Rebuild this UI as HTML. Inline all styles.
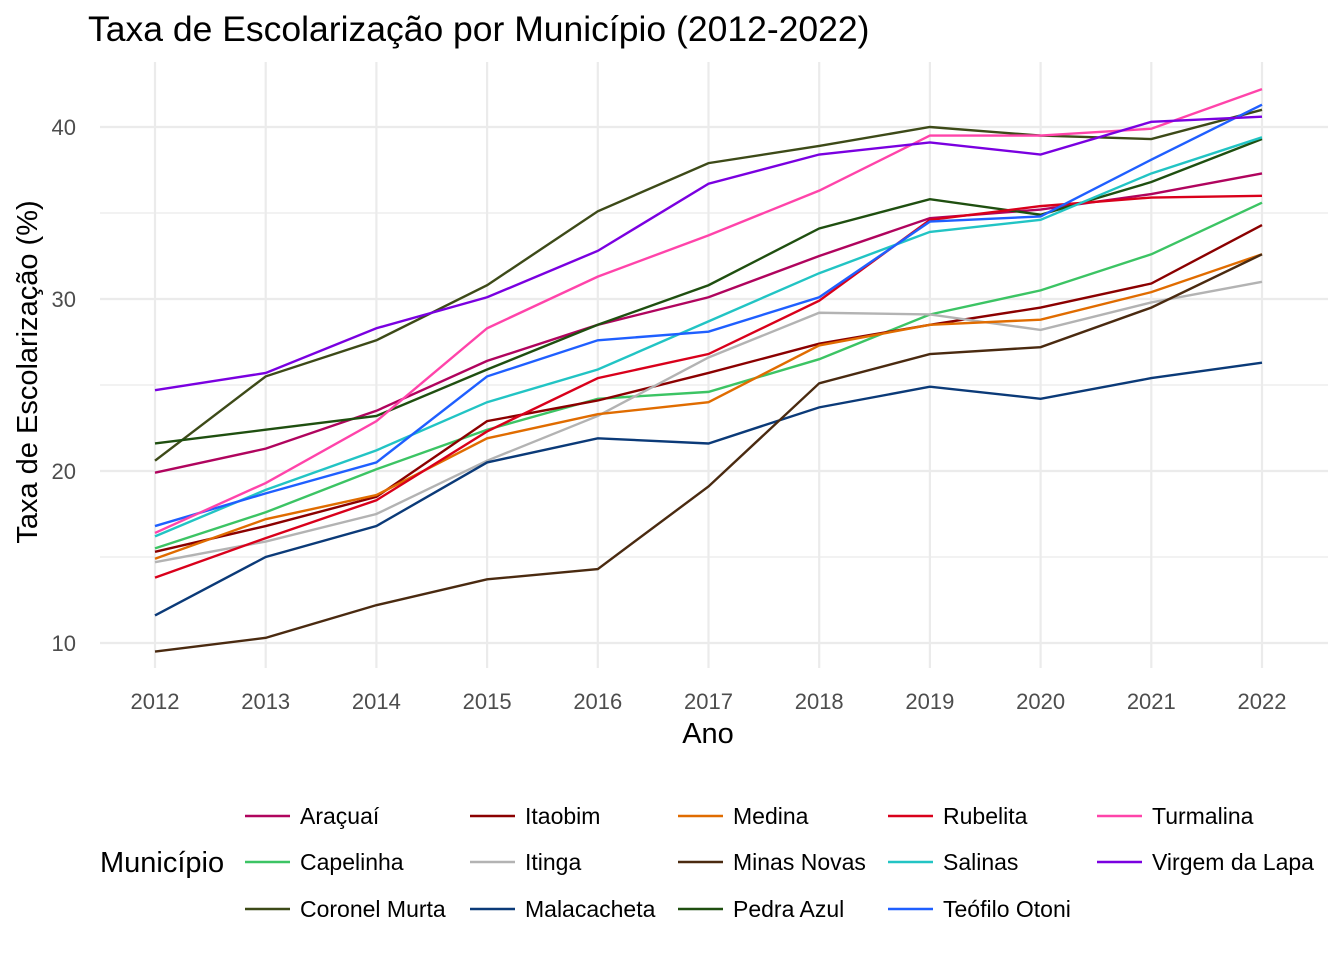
<!DOCTYPE html>
<html><head><meta charset="utf-8">
<style>
body{margin:0;background:#fff;font-family:"Liberation Sans",Arial,sans-serif;}
svg text{font-family:"Liberation Sans",Arial,sans-serif;}
</style></head>
<body>
<svg id="chart" width="1344" height="960" xmlns="http://www.w3.org/2000/svg">
<rect width="1344" height="960" fill="#fff"/>
<text x="88" y="41" font-size="35.5" fill="#000">Taxa de Escolarização por Município (2012-2022)</text>
<g id="grid"></g>
<g id="lines"></g>
<g id="axes"></g>
<text x="708" y="743" font-size="29" text-anchor="middle" fill="#000">Ano</text>
<text transform="translate(37,372) rotate(-90)" font-size="29" text-anchor="middle" fill="#000">Taxa de Escolarização (%)</text>
<text x="100" y="872" font-size="29" fill="#000">Município</text>
<g id="legend"></g>
</svg>
<script>
const years=[2012,2013,2014,2015,2016,2017,2018,2019,2020,2021,2022];
const yTicks=[10,20,30,40];
const yMinor=[15,25,35];
const names=["Araçuaí","Capelinha","Coronel Murta","Itaobim","Itinga","Malacacheta","Medina","Minas Novas","Pedra Azul","Rubelita","Salinas","Teófilo Otoni","Turmalina","Virgem da Lapa"];
const colors=["#b0045e","#3cc464","#3d4a18","#8b0000","#b3b3b3","#0b3a78","#e06c00","#4a2a10","#1f4f10","#d9001b","#22c4c4","#1f5fff","#ff44aa","#7a00e0"];
const sAracuai=[19.9,21.3,23.5,26.4,28.5,30.1,32.5,34.7,35.2,36.1,37.3];
const sCapelinha=[15.5,17.6,20.1,22.4,24.2,24.6,26.5,29.1,30.5,32.6,35.6];
const sCoronelMurta=[20.6,25.5,27.6,30.8,35.1,37.9,38.9,40.0,39.5,39.3,41.0];
const sItaobim=[15.3,16.8,18.5,22.9,24.1,25.7,27.4,28.5,29.5,30.9,34.3];
const sItinga=[14.7,15.9,17.5,20.6,23.2,26.6,29.2,29.1,28.2,29.8,31.0];
const sMalacacheta=[11.6,15.0,16.8,20.5,21.9,21.6,23.7,24.9,24.2,25.4,26.3];
const sMedina=[14.9,17.2,18.6,21.9,23.3,24.0,27.3,28.5,28.8,30.4,32.6];
const sMinasNovas=[9.5,10.3,12.2,13.7,14.3,19.1,25.1,26.8,27.2,29.5,32.6];
const sPedraAzul=[21.6,22.4,23.2,25.9,28.5,30.8,34.1,35.8,34.9,36.8,39.3];
const sRubelita=[13.8,16.1,18.3,22.3,25.4,26.8,29.9,34.6,35.4,35.9,36.0];
const sSalinas=[16.2,18.9,21.2,24.0,25.9,28.7,31.5,33.9,34.6,37.3,39.4];
const sTeofilo=[16.8,18.7,20.5,25.5,27.6,28.1,30.1,34.5,34.8,38.1,41.3];
const sTurmalina=[16.4,19.3,22.9,28.3,31.3,33.7,36.3,39.5,39.5,39.9,42.2];
const sVirgem=[24.7,25.7,28.3,30.1,32.8,36.7,38.4,39.1,38.4,40.3,40.6];
const series=[sAracuai,sCapelinha,sCoronelMurta,sItaobim,sItinga,sMalacacheta,sMedina,sMinasNovas,sPedraAzul,sRubelita,sSalinas,sTeofilo,sTurmalina,sVirgem];

const NS="http://www.w3.org/2000/svg";
const X=y=>155+(y-2012)*110.7;
const Y=v=>127+(40-v)*17.2;
const L=100,R=1328,T=62,B=668;
function mk(tag,attrs,parent){const e=document.createElementNS(NS,tag);for(const k in attrs)e.setAttribute(k,attrs[k]);parent.appendChild(e);return e;}
const grid=document.getElementById('grid'),axes=document.getElementById('axes'),lines=document.getElementById('lines'),legend=document.getElementById('legend');
yMinor.forEach(v=>{const e=mk('line',{x1:L,x2:R,y1:Y(v),y2:Y(v),stroke:'#ebebeb','stroke-width':1.2},grid);

});
yTicks.forEach(v=>{const e=mk('line',{x1:L,x2:R,y1:Y(v),y2:Y(v),stroke:'#ebebeb','stroke-width':2.2},grid);


const t=mk('text',{x:76,y:Y(v)+8,'font-size':22,'text-anchor':'end',fill:'#4d4d4d'},axes);t.textContent=v;

});
years.forEach(yr=>{const e=mk('line',{x1:X(yr),x2:X(yr),y1:T,y2:B,stroke:'#ebebeb','stroke-width':2.2},grid);


const t=mk('text',{x:X(yr),y:709,'font-size':22,'text-anchor':'middle',fill:'#4d4d4d'},axes);t.textContent=yr;

});
series.forEach((s,i)=>{const p=mk('polyline',{points:s.map((v,j)=>X(years[j])+','+Y(v)).join(' '),fill:'none',stroke:colors[i],'stroke-width':2.4},lines);

});
const colX=[245,470,678,888,1097],rowY=[816,862,909];
names.forEach((n,i)=>{const c=Math.floor(i/3),r=i%3;const g=mk('g',{},legend);


mk('line',{x1:colX[c],x2:colX[c]+45,y1:rowY[r],y2:rowY[r],stroke:colors[i],'stroke-width':2.4},g);
const t=mk('text',{x:colX[c]+55,y:rowY[r]+8,'font-size':23,fill:'#000'},g);t.textContent=n;});
</script>
</body></html>
